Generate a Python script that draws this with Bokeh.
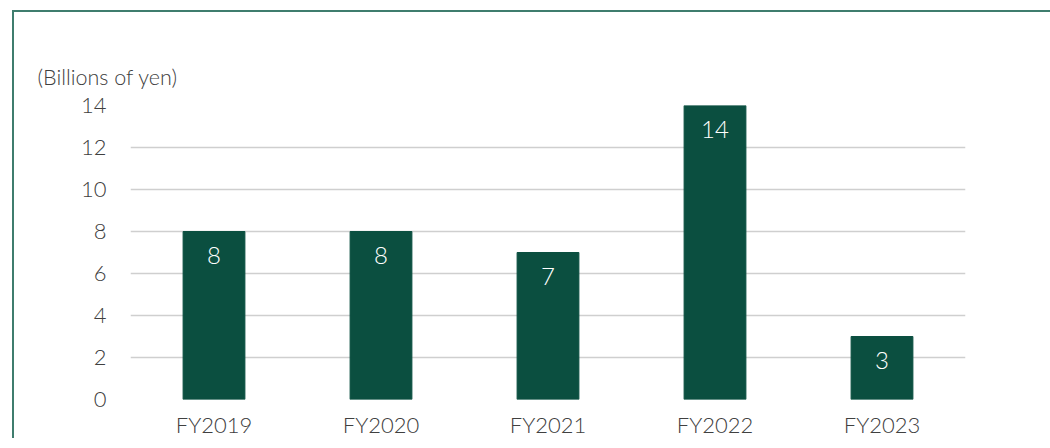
from bokeh.plotting import figure
from bokeh.models import ColumnDataSource, Range1d, Title
from bokeh.core.properties import value
from bokeh.embed import file_html
from bokeh.resources import INLINE

categories = ["FY2019", "FY2020", "FY2021", "FY2022", "FY2023"]
values = [8, 8, 7, 14, 3]
labels = ["8", "8", "7", "14", "3"]
y_ticks = [0, 2, 4, 6, 8, 10, 12, 14]

FONT = "'Lato Light', Lato"
TXT = "#404040"
BAR = "#0b4f40"
EDGE = "#3f7d6e"

src = ColumnDataSource(dict(cat=categories, val=values, lab=labels))

p = figure(x_range=categories, y_range=Range1d(0, 14), width=1040, height=428,
           output_backend="svg", toolbar_location=None,
           min_border_left=116, min_border_right=89, min_border_top=93, min_border_bottom=40)
p.outline_line_color = None
p.background_fill_color = "white"
p.border_fill_color = "white"
p.styles = {"border-left": f"2px solid {EDGE}", "border-top": f"2px solid {EDGE}",
            "margin-left": "12px", "margin-top": "10px"}

p.vbar(x="cat", top="val", width=0.37, color=BAR, source=src)
p.text(x="cat", y="val", text="lab", source=src, text_color="white",
       text_font=value(FONT), text_font_size="24px", text_align="center",
       text_baseline="top", y_offset=15)

p.xgrid.grid_line_color = None
p.ygrid.grid_line_color = "#cfcfcf"
p.ygrid.grid_line_width = 1.5
p.yaxis.ticker = y_ticks
for ax in (p.xaxis[0], p.yaxis[0]):
    ax.axis_line_color = None
    ax.major_tick_line_color = None
    ax.minor_tick_line_color = None
    ax.major_label_text_font = FONT
    ax.major_label_text_font_size = "22px"
    ax.major_label_text_color = TXT
p.yaxis.major_label_standoff = 18
p.xaxis.major_label_standoff = 5
p.x_range.range_padding = 0.0

p.title = Title(text="(Billions of yen)", align="left", offset=-93,
                text_font=FONT, text_font_size="21.5px", text_color=TXT,
                text_font_style="normal", standoff=31)

open("out.html", "w").write(file_html(p, INLINE))
